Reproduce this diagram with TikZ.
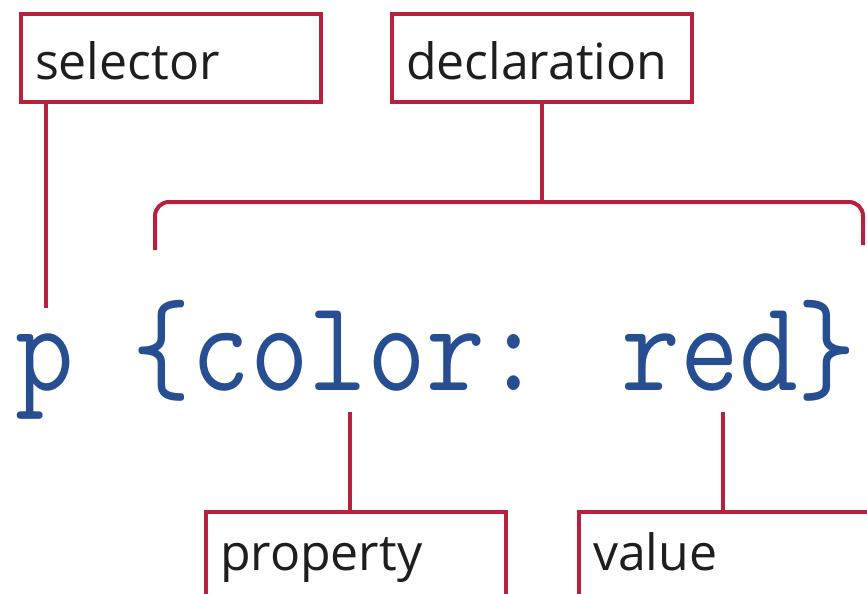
\documentclass[tikz,border=0pt]{standalone}
\usepackage{fontspec}
\newfontfamily\labfont{Open Sans}
\definecolor{crim}{RGB}{185,32,62}
\definecolor{codeblue}{RGB}{38,78,145}
\definecolor{labtext}{RGB}{30,30,30}
\tikzset{
  box/.style={draw=crim, line width=4pt, fill=white, anchor=north west,
    minimum height=88pt, text width=272pt, inner xsep=14pt, align=left,
    font=\labfont\fontsize{50}{60}\selectfont, text=labtext},
  topbox/.style={box, text height=46pt, text depth=4pt},
  lowbox/.style={box, text height=40pt, text depth=12pt},
  conn/.style={draw=crim, line width=4pt}
}
\begin{document}
\begin{tikzpicture}[x=1pt,y=-1pt]
\useasboundingbox (0,0) rectangle (867,594);
\clip (0,0) rectangle (867,594);
\fill[white] (0,0) rectangle (867,594);
% boxes
\node[topbox] (sel) at (19,12) {selector};
\node[topbox] (decl) at (390,12) {declaration};
\node[lowbox] (prop) at (204,510) {property};
\node[lowbox] (val) at (577,510) {value};
% code
\node[anchor=base west, inner sep=0pt, text=codeblue,
  font=\ttfamily\fontsize{114}{130}\selectfont] (code) at (15,390)
  {\scalebox{1}[1.14]{p {\char`\{}color: red{\char`\}}}};
% connector ends
\coordinate (selend) at (46,308);
\coordinate (brl) at (155,250);
\coordinate (brr) at (863,245);
\coordinate (brtop) at (540,202);
\coordinate (proptop) at (350,412);
\coordinate (valtop) at (723,412);
% connectors
\draw[conn] (selend |- sel.south) -- (selend);
\draw[conn] (decl.south) -- (decl.south |- brtop);
\draw[conn, rounded corners=14pt] (brl) |- (brtop) -| (brr);
\draw[conn] (proptop) -- (proptop |- prop.north);
\draw[conn] (valtop) -- (valtop |- val.north);
\end{tikzpicture}
\end{document}
